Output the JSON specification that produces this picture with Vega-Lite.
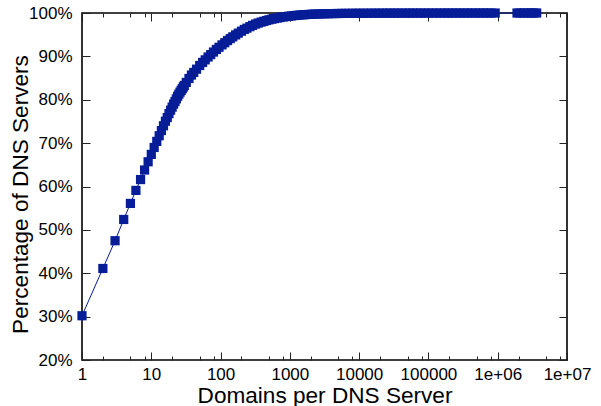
{
  "$schema": "https://vega.github.io/schema/vega-lite/v6.json",
  "width": 485,
  "height": 347,
  "autosize": {"type": "none"},
  "padding": {"left": 82, "top": 13, "right": 34, "bottom": 46},
  "background": "white",
  "config": {
    "view": {"stroke": "#000000", "strokeWidth": 1.6},
    "axis": {
      "grid": false,
      "domain": false,
      "labelFont": "Liberation Sans",
      "labelFontSize": 17,
      "labelColor": "#000000",
      "labelFlush": false,
      "labelOverlap": false,
      "labelBound": false,
      "titleFont": "Liberation Sans",
      "titleFontSize": 22.6,
      "titleFontWeight": "normal",
      "titleColor": "#000000",
      "tickColor": "#222222",
      "tickWidth": 1
    }
  },
  "data": {
    "values": [
      {"domains": 1, "pct": 30.2},
      {"domains": 2, "pct": 41.1},
      {"domains": 3, "pct": 47.5},
      {"domains": 4, "pct": 52.4},
      {"domains": 5, "pct": 56.1},
      {"domains": 6, "pct": 59.1},
      {"domains": 7, "pct": 61.6},
      {"domains": 8, "pct": 63.8},
      {"domains": 9, "pct": 65.7},
      {"domains": 10, "pct": 67.4},
      {"domains": 11, "pct": 69.0},
      {"domains": 12, "pct": 70.4},
      {"domains": 13, "pct": 71.7},
      {"domains": 14, "pct": 72.9},
      {"domains": 15, "pct": 74.0},
      {"domains": 16, "pct": 75.05},
      {"domains": 17, "pct": 75.9},
      {"domains": 18, "pct": 76.8},
      {"domains": 19, "pct": 77.6},
      {"domains": 20, "pct": 78.3},
      {"domains": 21, "pct": 79.0},
      {"domains": 22, "pct": 79.6},
      {"domains": 23, "pct": 80.2},
      {"domains": 24, "pct": 80.8},
      {"domains": 25, "pct": 81.3},
      {"domains": 26, "pct": 81.75},
      {"domains": 27, "pct": 82.15},
      {"domains": 28, "pct": 82.55},
      {"domains": 29, "pct": 82.95},
      {"domains": 30, "pct": 83.3},
      {"domains": 32, "pct": 84.0},
      {"domains": 35, "pct": 84.9},
      {"domains": 38, "pct": 85.7},
      {"domains": 41, "pct": 86.3},
      {"domains": 45, "pct": 87.05},
      {"domains": 50, "pct": 87.9},
      {"domains": 55, "pct": 88.6},
      {"domains": 60, "pct": 89.2},
      {"domains": 66, "pct": 89.85},
      {"domains": 72, "pct": 90.4},
      {"domains": 79, "pct": 91.0},
      {"domains": 87, "pct": 91.6},
      {"domains": 95, "pct": 92.1},
      {"domains": 105, "pct": 92.65},
      {"domains": 115, "pct": 93.15},
      {"domains": 126, "pct": 93.65},
      {"domains": 138, "pct": 94.1},
      {"domains": 150, "pct": 94.5},
      {"domains": 165, "pct": 94.95},
      {"domains": 180, "pct": 95.35},
      {"domains": 200, "pct": 95.8},
      {"domains": 220, "pct": 96.2},
      {"domains": 240, "pct": 96.5},
      {"domains": 265, "pct": 96.85},
      {"domains": 290, "pct": 97.15},
      {"domains": 320, "pct": 97.45},
      {"domains": 350, "pct": 97.68},
      {"domains": 385, "pct": 97.9},
      {"domains": 420, "pct": 98.08},
      {"domains": 460, "pct": 98.26},
      {"domains": 500, "pct": 98.43},
      {"domains": 550, "pct": 98.58},
      {"domains": 600, "pct": 98.71},
      {"domains": 660, "pct": 98.84},
      {"domains": 720, "pct": 98.95},
      {"domains": 800, "pct": 99.08},
      {"domains": 880, "pct": 99.17},
      {"domains": 960, "pct": 99.25},
      {"domains": 1050, "pct": 99.33},
      {"domains": 1150, "pct": 99.4},
      {"domains": 1270, "pct": 99.48},
      {"domains": 1400, "pct": 99.54},
      {"domains": 1550, "pct": 99.59},
      {"domains": 1700, "pct": 99.63},
      {"domains": 1900, "pct": 99.68},
      {"domains": 2100, "pct": 99.72},
      {"domains": 2300, "pct": 99.75},
      {"domains": 2600, "pct": 99.78},
      {"domains": 2900, "pct": 99.8},
      {"domains": 3200, "pct": 99.82},
      {"domains": 3600, "pct": 99.84},
      {"domains": 4000, "pct": 99.86},
      {"domains": 4500, "pct": 99.875},
      {"domains": 5000, "pct": 99.89},
      {"domains": 5600, "pct": 99.9},
      {"domains": 6300, "pct": 99.91},
      {"domains": 7000, "pct": 99.915},
      {"domains": 8000, "pct": 99.925},
      {"domains": 9000, "pct": 99.93},
      {"domains": 10000, "pct": 99.94},
      {"domains": 11500, "pct": 99.945},
      {"domains": 13000, "pct": 99.95},
      {"domains": 15000, "pct": 99.955},
      {"domains": 17000, "pct": 99.96},
      {"domains": 19500, "pct": 99.96},
      {"domains": 22000, "pct": 99.965},
      {"domains": 25000, "pct": 99.97},
      {"domains": 28000, "pct": 99.97},
      {"domains": 32000, "pct": 99.97},
      {"domains": 36000, "pct": 99.975},
      {"domains": 41000, "pct": 99.975},
      {"domains": 47000, "pct": 99.975},
      {"domains": 53000, "pct": 99.98},
      {"domains": 60000, "pct": 99.98},
      {"domains": 68000, "pct": 99.98},
      {"domains": 77000, "pct": 99.98},
      {"domains": 88000, "pct": 99.98},
      {"domains": 100000, "pct": 99.985},
      {"domains": 115000, "pct": 99.985},
      {"domains": 130000, "pct": 99.985},
      {"domains": 150000, "pct": 99.985},
      {"domains": 170000, "pct": 99.99},
      {"domains": 195000, "pct": 99.99},
      {"domains": 220000, "pct": 99.99},
      {"domains": 250000, "pct": 99.99},
      {"domains": 285000, "pct": 99.99},
      {"domains": 325000, "pct": 99.99},
      {"domains": 370000, "pct": 99.99},
      {"domains": 420000, "pct": 99.995},
      {"domains": 480000, "pct": 99.995},
      {"domains": 550000, "pct": 99.995},
      {"domains": 620000, "pct": 99.995},
      {"domains": 700000, "pct": 99.995},
      {"domains": 800000, "pct": 99.995},
      {"domains": 920000, "pct": 99.995},
      {"domains": 1900000, "pct": 99.998},
      {"domains": 2100000, "pct": 99.998},
      {"domains": 2400000, "pct": 99.998},
      {"domains": 2700000, "pct": 100},
      {"domains": 3000000, "pct": 100},
      {"domains": 3300000, "pct": 100},
      {"domains": 3650000, "pct": 100}
    ]
  },
  "layer": [
    {
      "mark": {"type": "line", "color": "#061d97", "strokeWidth": 1},
      "encoding": {
        "x": {
          "field": "domains", "type": "quantitative",
          "scale": {"type": "log", "domain": [1, 10000000], "nice": false},
          "axis": {
            "orient": "bottom",
            "values": [1, 10, 100, 1000, 10000, 100000, 1000000, 10000000],
            "tickSize": -8,
            "labelPadding": 14,
            "labelExpr": "datum.value >= 1000000 ? '1e+0' + format(log(datum.value)/LN10, '.0f') : format(datum.value, 'd')",
            "title": "Domains per DNS Server",
            "titleX": 242.5,
            "titleY": 42,
            "titleBaseline": "alphabetic",
            "titleAlign": "center"
          }
        },
        "y": {
          "field": "pct", "type": "quantitative",
          "scale": {"domain": [20, 100], "nice": false, "zero": false},
          "axis": {
            "orient": "left",
            "values": [20, 30, 40, 50, 60, 70, 80, 90, 100],
            "tickSize": -8,
            "labelPadding": 18,
            "labelExpr": "datum.value + '%'",
            "title": "Percentage of DNS Servers",
            "titleX": -54.5,
            "titleY": 181,
            "titleAngle": 270,
            "titleBaseline": "alphabetic",
            "titleAlign": "center"
          }
        }
      }
    },
    {
      "mark": {"type": "point", "shape": "square", "filled": true, "size": 85, "color": "#061d97", "opacity": 1},
      "encoding": {
        "x": {
          "field": "domains", "type": "quantitative",
          "scale": {"type": "log", "domain": [1, 10000000], "nice": false},
          "axis": {
            "orient": "top",
            "values": [1, 10, 100, 1000, 10000, 100000, 1000000, 10000000],
            "tickSize": -8,
            "labels": false,
            "title": null
          }
        },
        "y": {
          "field": "pct", "type": "quantitative",
          "scale": {"domain": [20, 100], "nice": false, "zero": false},
          "axis": {
            "orient": "right",
            "values": [20, 30, 40, 50, 60, 70, 80, 90, 100],
            "tickSize": -8,
            "labels": false,
            "title": null
          }
        }
      }
    },
    {
      "mark": {"type": "line", "strokeOpacity": 0},
      "encoding": {
        "x": {
          "field": "domains", "type": "quantitative",
          "scale": {"type": "log", "domain": [1, 10000000], "nice": false},
          "axis": {
            "orient": "bottom",
            "values": [2, 5, 8, 20, 50, 80, 200, 500, 800, 2000, 5000, 8000, 20000, 50000, 80000, 200000, 500000, 800000, 2000000, 5000000, 8000000],
            "tickSize": -4,
            "labels": false,
            "title": null
          }
        },
        "y": {
          "field": "pct", "type": "quantitative",
          "scale": {"domain": [20, 100], "nice": false, "zero": false},
          "axis": null
        }
      }
    },
    {
      "mark": {"type": "line", "strokeOpacity": 0},
      "encoding": {
        "x": {
          "field": "domains", "type": "quantitative",
          "scale": {"type": "log", "domain": [1, 10000000], "nice": false},
          "axis": {
            "orient": "top",
            "values": [2, 5, 8, 20, 50, 80, 200, 500, 800, 2000, 5000, 8000, 20000, 50000, 80000, 200000, 500000, 800000, 2000000, 5000000, 8000000],
            "tickSize": -4,
            "labels": false,
            "title": null
          }
        },
        "y": {
          "field": "pct", "type": "quantitative",
          "scale": {"domain": [20, 100], "nice": false, "zero": false},
          "axis": null
        }
      }
    }
  ],
  "resolve": {"axis": {"x": "independent", "y": "independent"}}
}
